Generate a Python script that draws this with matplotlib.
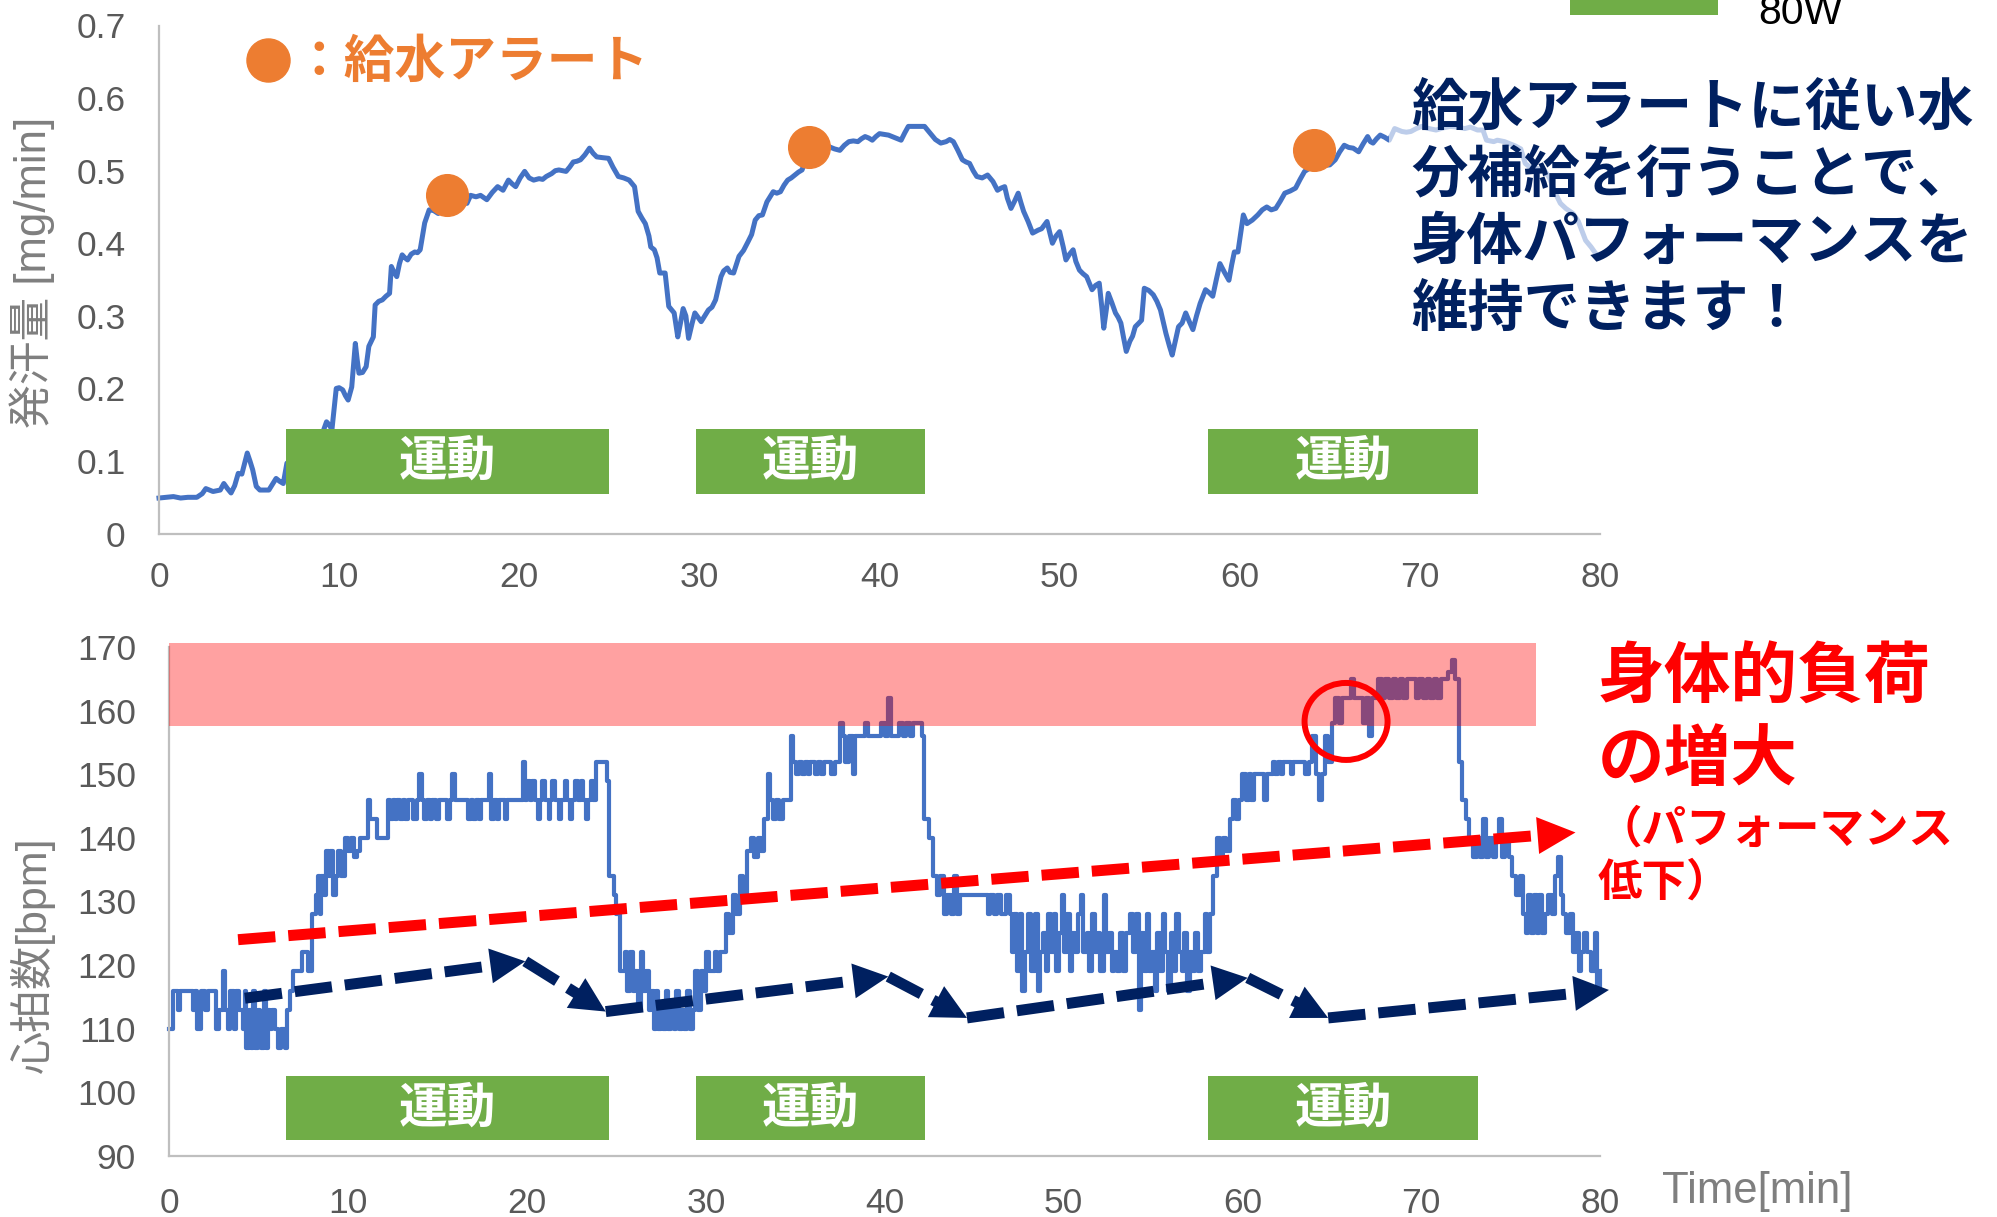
import numpy as np
import matplotlib
matplotlib.use("Agg")
import matplotlib.pyplot as plt
from matplotlib.patches import Rectangle, Polygon, Ellipse
from matplotlib.lines import Line2D
from matplotlib import transforms

plt.rcParams["font.family"] = ["Liberation Sans", "Noto Sans CJK JP"]
JP = ["Noto Sans CJK JP", "Liberation Sans"]

# ---------------- data ----------------
# sweat rate [mg/min] over time [min]
sweat_time = [
    0.0, 0.4, 0.8, 1.2, 1.6, 2.1, 2.4, 2.6, 3.0, 3.4, 3.6, 3.8, 4.0, 4.2, 4.4, 4.6,
    4.9, 5.05, 5.2, 5.4, 5.6, 6.1, 6.3, 6.5, 6.7, 6.9, 7.1, 7.6, 8.2, 8.7, 9.1, 9.3,
    9.45, 9.6, 9.84, 10.0, 10.2, 10.35, 10.5, 10.7, 10.9, 11.0, 11.1, 11.3, 11.5, 11.65,
    11.9, 12.0, 12.2, 12.4, 12.6, 12.8, 12.9, 13.05, 13.2, 13.35, 13.5, 13.65, 13.8, 14.0,
    14.2, 14.35, 14.5, 14.75, 15.0, 15.25, 15.5, 15.8, 16.0, 16.5, 17.1, 17.3, 17.6, 17.85,
    18.2, 18.5, 18.8, 19.1, 19.4, 19.6, 19.8, 20.05, 20.3, 20.55, 20.8, 21.1, 21.3, 21.5,
    21.8, 22.0, 22.2, 22.4, 22.6, 22.8, 23.0, 23.2, 23.4, 23.65, 23.9, 24.1, 24.3, 24.6,
    24.96, 25.2, 25.5, 25.8, 26.1, 26.4, 26.6, 26.8, 27.0, 27.2, 27.3, 27.5, 27.65, 27.8,
    28.1, 28.3, 28.6, 28.8, 28.95, 29.1, 29.25, 29.4, 29.6, 29.75, 30.1, 30.3, 30.5, 30.7,
    30.9, 31.2, 31.35, 31.55, 31.7, 31.9, 32.2, 32.45, 32.7, 32.9, 33.1, 33.3, 33.5, 33.75,
    33.95, 34.1, 34.3, 34.5, 34.7, 34.9, 35.1, 35.3, 35.5, 35.7, 35.9, 36.1, 36.6, 37.0,
    37.2, 37.5, 37.8, 38.05, 38.3, 38.55, 38.8, 39.0, 39.2, 39.4, 39.6, 39.8, 40.0, 40.25,
    40.5, 40.8, 41.0, 41.2, 41.4, 41.6, 42.0, 42.3, 42.5, 42.7, 42.9, 43.1, 43.4, 43.7,
    43.9, 44.1, 44.35, 44.6, 44.8, 45.0, 45.2, 45.4, 45.7, 46.0, 46.3, 46.55, 46.75, 46.95,
    47.1, 47.3, 47.5, 47.7, 47.85, 48.0, 48.25, 48.5, 48.8, 49.0, 49.3, 49.45, 49.6, 49.8,
    50.0, 50.2, 50.35, 50.55, 50.75, 50.9, 51.1, 51.3, 51.5, 51.65, 51.8, 52.0, 52.2, 52.35,
    52.45, 52.6, 52.7, 52.9, 53.1, 53.25, 53.4, 53.55, 53.7, 53.9, 54.05, 54.2, 54.4, 54.55,
    54.7, 54.95, 55.2, 55.4, 55.6, 55.75, 55.9, 56.1, 56.25, 56.45, 56.6, 56.8, 57.0, 57.2,
    57.4, 57.6, 57.8, 58.1, 58.3, 58.5, 58.7, 58.9, 59.15, 59.4, 59.55, 59.7, 59.9, 60.2,
    60.4, 60.7, 61.0, 61.25, 61.5, 61.75, 62.0, 62.25, 62.5, 62.8, 63.1, 63.35, 63.6, 63.85,
    64.1, 64.6, 65.0, 65.3, 65.55, 65.8, 66.05, 66.3, 66.6, 66.85, 67.1, 67.25, 67.4, 67.6,
    67.8, 68.05, 68.3, 68.6, 68.8, 69.0, 69.25, 69.5, 69.8, 70.1, 70.5, 70.9, 71.3, 71.7,
    72.1, 72.5, 72.8, 73.2, 73.5, 73.7, 74.1, 74.3, 74.7, 75.0, 75.3, 75.6, 75.85, 76.1,
    76.5, 76.9, 77.2, 77.5, 77.8, 78.1, 78.5, 78.8, 79.2, 79.5, 79.9,
]
sweat_rate = [
    0.049, 0.050, 0.051, 0.049, 0.050, 0.050, 0.055, 0.062, 0.058, 0.060, 0.069, 0.062, 0.056, 0.066, 0.083, 0.082,
    0.111, 0.100, 0.088, 0.065, 0.060, 0.060, 0.068, 0.076, 0.072, 0.069, 0.097, 0.105, 0.112, 0.125, 0.140, 0.154,
    0.150, 0.143, 0.200, 0.201, 0.198, 0.190, 0.184, 0.202, 0.262, 0.240, 0.221, 0.222, 0.230, 0.258,
    0.271, 0.315, 0.320, 0.322, 0.327, 0.331, 0.368, 0.360, 0.354, 0.372, 0.384, 0.380, 0.377, 0.385,
    0.388, 0.387, 0.391, 0.428, 0.446, 0.445, 0.441, 0.455, 0.462, 0.458, 0.455, 0.466, 0.464, 0.466,
    0.460, 0.470, 0.478, 0.473, 0.487, 0.482, 0.478, 0.490, 0.499, 0.490, 0.487, 0.489, 0.488, 0.492,
    0.496, 0.500, 0.501, 0.500, 0.499, 0.505, 0.512, 0.513, 0.515, 0.522, 0.531, 0.524, 0.519, 0.518,
    0.517, 0.505, 0.492, 0.490, 0.487, 0.478, 0.444, 0.435, 0.427, 0.410, 0.395, 0.391, 0.380, 0.359,
    0.359, 0.313, 0.304, 0.271, 0.290, 0.310, 0.300, 0.269, 0.290, 0.304, 0.292, 0.300, 0.308, 0.312,
    0.322, 0.354, 0.362, 0.366, 0.360, 0.359, 0.382, 0.390, 0.402, 0.412, 0.432, 0.438, 0.439, 0.457,
    0.465, 0.471, 0.469, 0.471, 0.480, 0.487, 0.490, 0.494, 0.498, 0.501, 0.515, 0.525, 0.532, 0.534,
    0.533, 0.530, 0.528, 0.535, 0.540, 0.541, 0.540, 0.544, 0.547, 0.545, 0.542, 0.547, 0.551, 0.550,
    0.549, 0.546, 0.544, 0.542, 0.552, 0.561, 0.561, 0.561, 0.561, 0.555, 0.549, 0.543, 0.538, 0.540,
    0.543, 0.540, 0.528, 0.515, 0.512, 0.510, 0.500, 0.492, 0.490, 0.494, 0.485, 0.473, 0.476, 0.478,
    0.462, 0.448, 0.458, 0.469, 0.456, 0.444, 0.430, 0.414, 0.418, 0.420, 0.430, 0.415, 0.400, 0.410,
    0.416, 0.395, 0.377, 0.385, 0.391, 0.375, 0.363, 0.358, 0.354, 0.345, 0.336, 0.342, 0.345, 0.310,
    0.283, 0.310, 0.331, 0.318, 0.304, 0.298, 0.290, 0.270, 0.251, 0.265, 0.272, 0.285, 0.290, 0.294,
    0.338, 0.335, 0.329, 0.320, 0.308, 0.292, 0.276, 0.258, 0.246, 0.268, 0.285, 0.290, 0.304, 0.292,
    0.281, 0.300, 0.317, 0.336, 0.332, 0.327, 0.350, 0.372, 0.360, 0.349, 0.370, 0.388, 0.388, 0.439,
    0.427, 0.432, 0.439, 0.446, 0.450, 0.446, 0.448, 0.458, 0.469, 0.472, 0.476, 0.488, 0.499, 0.503,
    0.505, 0.507, 0.508, 0.515, 0.526, 0.535, 0.532, 0.531, 0.526, 0.537, 0.547, 0.540, 0.538, 0.544,
    0.549, 0.546, 0.542, 0.558, 0.556, 0.554, 0.553, 0.554, 0.558, 0.561, 0.558, 0.556, 0.559, 0.561,
    0.560, 0.558, 0.560, 0.556, 0.556, 0.542, 0.540, 0.542, 0.540, 0.537, 0.534, 0.530, 0.510, 0.505,
    0.503, 0.501, 0.490, 0.470, 0.455, 0.448, 0.441, 0.430, 0.404, 0.395, 0.381,
]

# hydration alerts
alert_time = [16.0, 36.1, 64.1]
alert_rate = [0.467, 0.532, 0.528]

# heart rate [bpm] (step changes)
hr_time = [
    0.0, 0.2, 0.5, 0.6, 1.3, 1.45, 1.55, 1.75, 2.0, 2.15, 2.6, 2.8, 3.0, 3.1, 3.25, 3.4,
    3.6, 3.75, 3.9, 4.1, 4.2, 4.3, 4.45, 4.55, 4.7, 4.8, 4.95, 5.05, 5.15, 5.3, 5.4, 5.5,
    5.6, 5.75, 5.9, 6.05, 6.25, 6.45, 6.6, 6.75, 6.9, 7.05, 7.4, 7.75, 7.95, 8.2, 8.3, 8.4,
    8.5, 8.65, 8.75, 8.9, 9.0, 9.15, 9.3, 9.45, 9.6, 9.8, 10.0, 10.15, 10.3, 10.5, 10.65, 11.1,
    11.2, 11.6, 12.2, 12.35, 12.5, 12.6, 12.75, 12.9, 13.05, 13.2, 13.35, 13.65, 13.85, 13.98, 14.1, 14.25,
    14.4, 14.55, 14.7, 14.9, 15.05, 15.55, 15.7, 15.78, 15.95, 16.7, 16.85, 17.0, 17.15, 17.3, 17.45, 17.85,
    18.0, 18.15, 18.3, 18.45, 18.75, 18.9, 19.75, 19.9, 20.0, 20.15, 20.3, 20.45, 20.6, 20.7, 20.85, 21.0,
    21.2, 21.3, 21.4, 21.55, 21.8, 21.9, 22.1, 22.25, 22.4, 22.5, 22.7, 22.85, 23.0, 23.15, 23.3, 23.4,
    23.55, 23.7, 23.87, 24.45, 24.6, 24.85, 25.0, 25.2, 25.45, 25.6, 25.75, 25.9, 26.05, 26.2, 26.35, 26.5,
    26.65, 26.8, 26.95, 27.1, 27.2, 27.35, 27.5, 27.6, 27.75, 27.9, 28.05, 28.2, 28.35, 28.5, 28.65, 28.8,
    28.95, 29.1, 29.3, 29.4, 29.55, 29.7, 29.85, 30.0, 30.15, 30.5, 30.65, 30.8, 31.15, 31.3, 31.5, 31.7,
    31.9, 32.1, 32.3, 32.5, 32.7, 32.9, 33.1, 33.25, 33.45, 33.6, 33.75, 33.9, 34.1, 34.3, 34.75, 34.9,
    35.05, 35.2, 35.4, 35.55, 35.7, 35.85, 36.1, 36.25, 36.45, 36.6, 37.0, 37.2, 37.5, 37.65, 37.8, 38.0,
    38.2, 38.35, 38.9, 39.05, 39.8, 40.0, 40.2, 40.35, 40.8, 41.0, 41.2, 41.4, 41.6, 42.1, 42.2, 42.5,
    42.7, 42.9, 43.1, 43.3, 43.5, 43.7, 43.9, 44.05, 44.2, 45.75, 45.9, 46.1, 46.3, 46.5, 46.8, 47.0,
    47.1, 47.25, 47.4, 47.55, 47.7, 47.85, 48.0, 48.2, 48.4, 48.55, 48.7, 48.85, 49.0, 49.15, 49.3, 49.45,
    49.6, 49.75, 49.9, 50.05, 50.2, 50.35, 50.5, 50.65, 50.8, 50.95, 51.1, 51.3, 51.45, 51.6, 51.75, 51.9,
    52.05, 52.25, 52.4, 52.55, 52.7, 52.85, 53.0, 53.15, 53.3, 53.5, 53.7, 53.9, 54.05, 54.2, 54.35, 54.5,
    54.65, 54.8, 54.95, 55.1, 55.25, 55.4, 55.55, 55.7, 55.85, 56.0, 56.15, 56.3, 56.45, 56.6, 56.75, 56.9,
    57.05, 57.2, 57.35, 57.5, 57.7, 57.9, 58.05, 58.2, 58.35, 58.6, 58.75, 58.9, 59.1, 59.3, 59.5, 59.65,
    59.8, 60.0, 60.2, 60.35, 60.5, 60.65, 61.2, 61.4, 61.7, 61.85, 62.0, 62.15, 62.3, 62.7, 62.85, 63.5,
    63.7, 63.9, 64.1, 64.3, 64.45, 64.6, 64.8, 65.0, 65.2, 65.4, 65.6, 66.05, 66.25, 66.75, 66.9, 67.1,
    67.25, 67.6, 67.8, 68.0, 68.2, 68.4, 68.6, 68.8, 69.0, 69.2, 69.7, 69.9, 70.1, 70.3, 70.5, 70.7,
    70.9, 71.1, 71.5, 71.7, 71.9, 72.1, 72.3, 72.5, 72.7, 72.9, 73.1, 73.3, 73.45, 73.6, 73.8, 74.0,
    74.2, 74.35, 74.5, 74.7, 74.9, 75.1, 75.3, 75.5, 75.7, 75.85, 76.0, 76.15, 76.3, 76.45, 76.6, 76.75,
    76.9, 77.1, 77.3, 77.5, 77.65, 77.8, 77.95, 78.1, 78.3, 78.5, 78.65, 78.8, 78.95, 79.1, 79.3, 79.5,
    79.7, 79.85, 80.0,
]
hr_bpm = [
    110, 116, 113, 116, 113, 116, 110, 116, 113, 116, 110, 113, 119, 113, 110, 116,
    110, 116, 113, 110, 116, 107, 113, 107, 116, 107, 113, 110, 107, 116, 107, 113,
    110, 113, 110, 107, 110, 107, 113, 116, 119, 119, 122, 119, 128, 131, 134, 128,
    134, 131, 138, 134, 138, 131, 134, 138, 134, 140, 138, 140, 137, 138, 140, 146,
    143, 140, 146, 143, 146, 143, 146, 143, 146, 143, 146, 143, 146, 150, 146, 143,
    146, 143, 146, 143, 146, 143, 146, 150, 146, 143, 146, 143, 146, 143, 146, 150,
    143, 146, 143, 146, 143, 146, 152, 146, 149, 146, 149, 146, 143, 146, 149, 146,
    143, 146, 149, 146, 143, 146, 149, 146, 143, 146, 149, 146, 149, 146, 143, 146,
    149, 146, 152, 149, 134, 131, 128, 119, 122, 116, 122, 116, 119, 113, 122, 116,
    119, 113, 116, 110, 116, 110, 113, 110, 116, 110, 113, 110, 116, 110, 113, 110,
    116, 110, 113, 119, 113, 119, 116, 122, 119, 122, 119, 122, 128, 125, 131, 128,
    134, 131, 138, 140, 137, 140, 138, 143, 150, 146, 143, 146, 143, 146, 156, 152,
    150, 152, 150, 152, 150, 152, 150, 152, 150, 152, 150, 152, 158, 156, 152, 156,
    150, 156, 158, 156, 158, 156, 162, 156, 158, 156, 158, 156, 158, 156, 143, 140,
    134, 131, 134, 128, 131, 128, 134, 128, 131, 128, 131, 128, 131, 128, 131, 128,
    122, 128, 119, 128, 116, 122, 128, 119, 128, 116, 122, 125, 119, 128, 122, 128,
    119, 125, 131, 122, 128, 119, 125, 122, 128, 131, 122, 125, 119, 128, 122, 125,
    119, 131, 122, 125, 119, 122, 119, 125, 119, 125, 128, 122, 128, 113, 125, 119,
    128, 119, 122, 116, 125, 119, 128, 122, 116, 125, 119, 128, 122, 119, 125, 116,
    122, 119, 125, 119, 122, 128, 122, 128, 134, 140, 137, 140, 138, 143, 146, 143,
    146, 150, 146, 150, 146, 150, 146, 150, 152, 150, 152, 150, 152, 150, 152, 150,
    152, 156, 150, 146, 150, 156, 152, 158, 162, 158, 162, 165, 162, 158, 162, 156,
    162, 165, 162, 165, 162, 165, 162, 165, 162, 165, 162, 165, 162, 165, 162, 165,
    162, 165, 166, 168, 165, 152, 146, 143, 140, 137, 140, 137, 143, 137, 140, 137,
    140, 143, 137, 140, 137, 134, 131, 134, 128, 125, 131, 125, 131, 125, 131, 125,
    128, 131, 128, 134, 137, 131, 128, 125, 128, 122, 125, 119, 122, 125, 122, 119,
    125, 116, 119,
]

# exercise periods [min]
exercise_start = [7.05, 29.8, 58.25]
exercise_end = [25.0, 42.55, 73.2]
exercise_label = "運動"

sweat_ticks = [0, 0.1, 0.2, 0.3, 0.4, 0.5, 0.6, 0.7]
sweat_tick_labels = ["0", "0.1", "0.2", "0.3", "0.4", "0.5", "0.6", "0.7"]
hr_ticks = [90, 100, 110, 120, 130, 140, 150, 160, 170]
time_ticks = [0, 10, 20, 30, 40, 50, 60, 70, 80]

# high-load heart-rate zone
load_zone = (157.6, 170.6)
load_zone_end = 76.4

# trend arrows (time, bpm)
load_trend = [(3.84, 124.0), (78.63, 140.85)]
hr_trend = [(4.22, 114.8), (19.9, 120.6), (24.4, 112.7), (40.2, 118.2),
            (44.6, 111.7), (60.3, 118.0), (64.8, 111.7), (80.5, 116.1)]
highlight = (65.8, 158.3)

# ---------------- style ----------------
BLUE = "#4472C4"
ORANGE = "#ED7D31"
GREEN = "#70AD47"
NAVY = "#002060"
RED = "#FF0000"
AXIS_GRAY = "#BFBFBF"
TICK_GRAY = "#595959"
LABEL_GRAY = "#7F7F7F"

W, H = 1997, 1217
fig = plt.figure(figsize=(W / 100, H / 100), dpi=100)
fig.patch.set_facecolor("white")


def fx(px):
    return px / W


def fy(py):
    return 1 - py / H


ax1 = fig.add_axes([fx(159), fy(533.6), fx(1600) - fx(159), fy(25.5) - fy(533.6)])
ax2 = fig.add_axes([fx(169.4), fy(1156), fx(1600) - fx(169.4), fy(647) - fy(1156)])

for ax in (ax1, ax2):
    for side in ("top", "right"):
        ax.spines[side].set_visible(False)
    for side in ("left", "bottom"):
        ax.spines[side].set_color(AXIS_GRAY)
        ax.spines[side].set_linewidth(1.6)
    ax.tick_params(length=0, labelsize=25.5, labelcolor=TICK_GRAY)
    ax.tick_params(axis="y", pad=24)
    ax.set_xlim(0, 80)
    ax.set_xticks(time_ticks)
    ax.patch.set_alpha(0)

ax1.tick_params(axis="x", pad=20)
ax2.tick_params(axis="x", pad=22)
ax1.set_ylim(0, 0.7)
ax1.set_yticks(sweat_ticks)
ax1.set_yticklabels(sweat_tick_labels)
ax2.set_ylim(90, 170)
ax2.set_yticks(hr_ticks)

# ---- sweat rate panel ----
ax1.plot(sweat_time, sweat_rate, color=BLUE, lw=3.6, zorder=2, clip_on=False)
ax1.plot(alert_time, alert_rate, "o", color=ORANGE, ms=30, zorder=4, clip_on=False)

# ---- heart rate panel ----
ax2.plot(hr_time, hr_bpm, color=BLUE, lw=3.0, drawstyle="steps-post", zorder=2,
         clip_on=False)
ax2.add_patch(Rectangle((0, load_zone[0]), load_zone_end, load_zone[1] - load_zone[0],
                        facecolor=RED, alpha=0.37, edgecolor="none", zorder=3,
                        clip_on=False))

# exercise boxes, same horizontal placement in both panels
for ax in (ax1, ax2):
    trans = transforms.blended_transform_factory(ax1.transData, ax.transData)
    ylo, yhi = (0.055, 0.144) if ax is ax1 else (92.49, 102.64)
    for s, e in zip(exercise_start, exercise_end):
        ax.add_patch(Rectangle((s, ylo), e - s, yhi - ylo, transform=trans,
                               facecolor=GREEN, edgecolor="none", zorder=5, clip_on=False))
        ax.text((s + e) / 2, (ylo + yhi) / 2, exercise_label, transform=trans,
                ha="center", va="center", size=35, weight="bold", color="white",
                family=JP, zorder=6)


def dashed_arrow(ax, p0, p1, color, lw_px, head_len, head_w, zorder=7):
    """Dashed shaft with a solid triangular head; sizes in pixels."""
    tr = ax.transData
    P0 = tr.transform(p0)
    P1 = tr.transform(p1)
    d = P1 - P0
    u = d / np.hypot(*d)
    n = np.array([-u[1], u[0]])
    base = P1 - u * head_len
    inv = tr.inverted()
    shaft = inv.transform([P0, base + u * 2])
    ax.plot(shaft[:, 0], shaft[:, 1], color=color, lw=lw_px * 0.72,
            dashes=(3.4, 1.18), dash_capstyle="butt", zorder=zorder, clip_on=False)
    tri = inv.transform([P1, base + n * head_w / 2, base - n * head_w / 2])
    ax.add_patch(Polygon(tri, closed=True, facecolor=color, edgecolor="none",
                         zorder=zorder, clip_on=False))


dashed_arrow(ax2, load_trend[0], load_trend[1], RED, 11, 38, 37)
for a, b in zip(hr_trend[:-1], hr_trend[1:]):
    dashed_arrow(ax2, a, b, NAVY, 11, 35, 35)

# highlight ring (size in pixels)
px_per_x = ax2.transData.transform((1, 0))[0] - ax2.transData.transform((0, 0))[0]
px_per_y = ax2.transData.transform((0, 1))[1] - ax2.transData.transform((0, 0))[1]
ax2.add_patch(Ellipse(highlight, 83 / px_per_x, 77 / px_per_y, facecolor="none",
                      edgecolor=RED, lw=4.3, zorder=8, clip_on=False))

# ---------------- figure text ----------------
fig.text(fx(32), fy(272), "発汗量 [mg/min]", rotation=90, ha="center", va="center",
         size=31.5, color=LABEL_GRAY)
fig.text(fx(32), fy(955), "心拍数[bpm]", rotation=90, ha="center", va="center",
         size=31, color=LABEL_GRAY)
fig.text(fx(1662), fy(1192), "Time[min]", ha="left", va="center", size=31.5,
         color=LABEL_GRAY)

# alert legend
fig.add_artist(Line2D([fx(268)], [fy(60)], transform=fig.transFigure, marker="o",
                      ms=31, color=ORANGE, linestyle="none"))
fig.text(fx(293), fy(62), "：給水アラート", ha="left", va="center", size=36.5,
         weight="bold", color=ORANGE, family=JP)

# message box over the sweat curve
fig.add_artist(Rectangle((fx(1389), fy(350)), fx(1997) - fx(1389), fy(68) - fy(350),
                         transform=fig.transFigure, facecolor="white", alpha=0.65,
                         edgecolor="none", zorder=2))
message = ["給水アラートに従い水", "分補給を行うことで、", "身体パフォーマンスを", "維持できます！"]
for i, line in enumerate(message):
    fig.text(fx(1411), fy(108 + 67.2 * i), line, ha="left", va="center", size=40.5,
             weight="bold", color=NAVY, family=JP, zorder=3)

# load annotation
fig.text(fx(1598), fy(678), "身体的負荷", ha="left", va="center", size=48,
         weight="bold", color=RED, family=JP)
fig.text(fx(1598), fy(760), "の増大", ha="left", va="center", size=48,
         weight="bold", color=RED, family=JP)
fig.text(fx(1598), fy(830), "（パフォーマンス", ha="left", va="center", size=32,
         weight="bold", color=RED, family=JP)
fig.text(fx(1598), fy(883), "低下）", ha="left", va="center", size=32,
         weight="bold", color=RED, family=JP)

# condition tag at the top edge
fig.add_artist(Rectangle((fx(1570), fy(14.7)), fx(1718) - fx(1570), 0.05,
                         transform=fig.transFigure, facecolor=GREEN, edgecolor="none"))
fig.text(fx(1644), fy(3), "運動", ha="center", va="bottom", size=30, weight="bold",
         color="white", family=JP)
fig.text(fx(1758), fy(24), "80W", ha="left", va="baseline", size=29.5, color="black")

fig.savefig("out.png", dpi=100, facecolor="white")
